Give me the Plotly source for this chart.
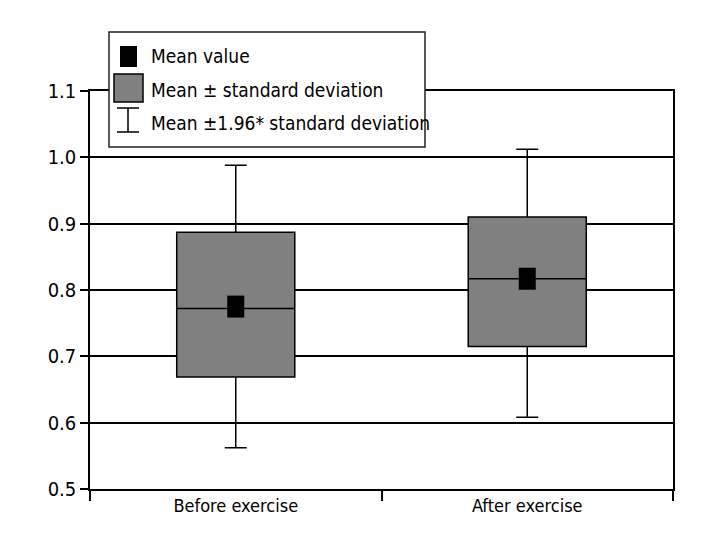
import plotly.graph_objects as go

# ---- data ----
categories = ["Before exercise", "After exercise"]
mean_vals = [0.775, 0.817]
median_vals = [0.772, 0.817]
sd_low = [0.669, 0.715]
sd_high = [0.887, 0.910]
ci_low = [0.562, 0.608]
ci_high = [0.988, 1.012]
y_ticks = [0.5, 0.6, 0.7, 0.8, 0.9, 1.0, 1.1]
legend_labels = ["Mean value", "Mean \u00b1 standard deviation", "Mean \u00b11.96* standard deviation"]

FONT = "DejaVu Sans Condensed, Liberation Sans Narrow, sans-serif"
FS = 18
W, H = 720, 552
OFF = 8  # page body margin offset
# target plot area in page pixels: x 90..673, y 91..489
L = 90 - OFF
T = 91 - OFF
R = W - (673 - OFF)
B = H - (489 - OFF)

fig = go.Figure()

fig.add_trace(go.Box(
    x=categories,
    q1=sd_low, median=median_vals, q3=sd_high,
    lowerfence=ci_low, upperfence=ci_high,
    fillcolor="#808080",
    line=dict(color="black", width=1.5),
    width=0.405,
    whiskerwidth=0.186,
    showlegend=False,
    hoverinfo="skip",
))

fig.add_trace(go.Scatter(
    x=categories, y=mean_vals, mode="markers",
    marker=dict(symbol="line-ns", size=15.7, color="black",
                line=dict(color="black", width=17)),
    showlegend=False, hoverinfo="skip",
))

# ---- manual legend (page pixel -> paper helpers) ----
def px(x):
    return (x - OFF - L) / (W - L - R)

def py(y):
    return 1 - (y - OFF - T) / (H - T - B)

shapes = []
shapes.append(dict(type="rect", xref="paper", yref="paper",
                   x0=px(109), x1=px(425), y0=py(147), y1=py(32),
                   fillcolor="white", line=dict(color="#222", width=1.5), layer="above"))
shapes.append(dict(type="rect", xref="paper", yref="paper",
                   x0=px(120), x1=px(137), y0=py(67), y1=py(46),
                   fillcolor="black", line=dict(width=0), layer="above"))
shapes.append(dict(type="rect", xref="paper", yref="paper",
                   x0=px(114), x1=px(143), y0=py(102), y1=py(74),
                   fillcolor="#808080", line=dict(color="black", width=1.5), layer="above"))
for (xa, ya, xb, yb) in [(117, 108, 139, 108), (117, 132, 139, 132), (128, 108, 128, 132)]:
    shapes.append(dict(type="line", xref="paper", yref="paper",
                       x0=px(xa), x1=px(xb), y0=py(ya), y1=py(yb),
                       line=dict(color="black", width=1.5), layer="above"))

annotations = []
for lab, yc in zip(legend_labels, [56, 90, 123]):
    annotations.append(dict(xref="paper", yref="paper", x=px(149), y=py(yc),
                            text=lab, showarrow=False, xanchor="left", yanchor="middle",
                            font=dict(family=FONT, size=FS + 1, color="black")))

fig.update_layout(
    width=W, height=H,
    margin=dict(l=L, r=R, t=T, b=B),
    paper_bgcolor="white", plot_bgcolor="white",
    font=dict(family=FONT, size=FS, color="black"),
    shapes=shapes, annotations=annotations,
    showlegend=False,
)
fig.update_xaxes(
    type="category", categoryorder="array", categoryarray=categories,
    range=[-0.5, 1.5],
    showline=True, linecolor="black", linewidth=1.5, mirror=True,
    ticks="outside", tickson="boundaries", ticklen=10, tickwidth=1.5, tickcolor="black",
    showgrid=False, tickfont=dict(family=FONT, size=FS, color="black"),
)
fig.update_yaxes(
    range=[0.5, 1.1], tickvals=y_ticks, tickformat=".1f",
    showline=True, linecolor="black", linewidth=1.5, mirror=True,
    ticks="outside", ticklen=8, tickwidth=1.5, tickcolor="black",
    showgrid=True, gridcolor="black", gridwidth=1.5, zeroline=False,
    tickfont=dict(family=FONT, size=FS + 2, color="black"),
)

fig.write_html("out.html")
